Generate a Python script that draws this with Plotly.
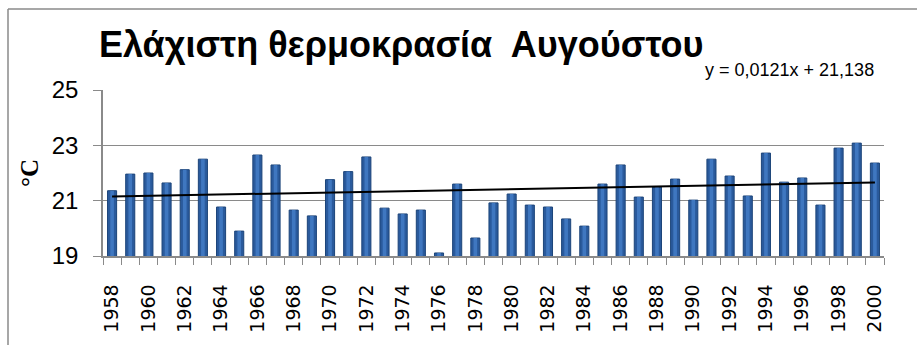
import plotly.graph_objects as go

# August minimum temperature, 1958-2000 (°C)
years = list(range(1958, 2001))
tmin = [21.36, 21.96, 22.00, 21.64, 22.12, 22.50, 20.77, 19.90, 22.65, 22.29,
        20.66, 20.45, 21.76, 22.05, 22.58, 20.73, 20.52, 20.66, 19.11, 21.60,
        19.65, 20.92, 21.24, 20.84, 20.77, 20.34, 20.08, 21.60, 22.29, 21.13,
        21.49, 21.78, 21.02, 22.50, 21.89, 21.17, 22.72, 21.67, 21.82, 20.84,
        22.90, 23.08, 22.36]

# Linear trend as reported on the chart: y = a*x + b, x = 1..N
trend_slope = 0.0121
trend_intercept = 21.138
trend_label = "y = 0,0121x + 21,138"

title_text = "Ελάχιστη θερμοκρασία  Αυγούστου"
y_title = "°C"
y_ticks = [19, 21, 23, 25]
x_tick_years = [y for y in years if y % 2 == 0]

trend_x = [years[0], years[-1]]
trend_y = [trend_slope * (y - years[0] + 1) + trend_intercept for y in trend_x]

GRID = "#8a8a8a"
W, H = 917, 345
L, R, T, B = 103, 33, 90, 89
pw, ph = W - L - R, H - T - B


def px_x(p):
    return (p - L) / pw


def px_y(p):
    return (H - B - p) / ph


fig = go.Figure()
fig.add_trace(go.Bar(x=years, y=tmin, width=0.5, base=0,
                     marker=dict(color="#2a5a9c", line=dict(color="#1c4479", width=1)),
                     showlegend=False, hoverinfo="x+y"))
fig.add_trace(go.Bar(x=years, y=tmin, width=0.2, base=0,
                     marker=dict(color="#3f77c0", line=dict(width=0)),
                     showlegend=False, hoverinfo="skip"))
fig.add_trace(go.Scatter(x=trend_x, y=trend_y, mode="lines",
                         line=dict(color="black", width=2),
                         showlegend=False, hoverinfo="skip"))

fig.update_layout(
    width=W, height=H,
    margin=dict(l=L, r=R, t=T, b=B),
    barmode="overlay",
    plot_bgcolor="white", paper_bgcolor="white",
    xaxis=dict(
        range=[years[0] - 0.5, years[-1] + 0.5],
        tickmode="array", tickvals=x_tick_years,
        ticktext=[str(y) for y in x_tick_years],
        tickangle=-90, ticks="outside", ticklen=7, tickcolor="rgba(0,0,0,0)",
        ticklabelstandoff=12,
        tickfont=dict(family="DejaVu Sans", size=19, color="black"),
        showline=True, linecolor=GRID, linewidth=1.5,
        showgrid=False, zeroline=False,
        minor=dict(tickmode="array",
                   tickvals=[years[0] - 0.5 + k for k in range(len(years) + 1)],
                   ticks="outside", ticklen=7, tickcolor=GRID, tickwidth=1.3,
                   showgrid=False),
    ),
    yaxis=dict(
        range=[y_ticks[0], y_ticks[-1]],
        tickmode="array", tickvals=y_ticks,
        ticks="outside", ticklen=8, tickcolor=GRID, tickwidth=1.3,
        ticklabelstandoff=10,
        tickfont=dict(family="Liberation Sans", size=24, color="black"),
        showline=True, linecolor=GRID, linewidth=1.5,
        showgrid=True, gridcolor=GRID, gridwidth=1.3, zeroline=False,
    ),
    annotations=[
        dict(text=f"<b>{title_text}</b>", xref="paper", yref="paper",
             x=px_x(97), y=px_y(44), xanchor="left", yanchor="middle",
             showarrow=False,
             font=dict(family="Liberation Sans", size=36, color="black")),
        dict(text=trend_label, xref="paper", yref="paper",
             x=px_x(876), y=px_y(70), xanchor="right", yanchor="middle",
             showarrow=False,
             font=dict(family="Liberation Sans", size=18, color="black")),
        dict(text=f"<b>{y_title}</b>", xref="paper", yref="paper",
             x=px_x(29), y=px_y(173), xanchor="center", yanchor="middle",
             textangle=-90, showarrow=False,
             font=dict(family="Liberation Serif", size=25, color="black")),
    ],
    shapes=[
        dict(type="line", xref="paper", yref="paper",
             x0=px_x(8), x1=px_x(8), y0=px_y(H + 5), y1=px_y(9),
             line=dict(color=GRID, width=1.5)),
        dict(type="line", xref="paper", yref="paper",
             x0=px_x(8), x1=px_x(W + 5), y0=px_y(9), y1=px_y(9),
             line=dict(color=GRID, width=1.5)),
    ],
)

fig.write_html("out.html")
